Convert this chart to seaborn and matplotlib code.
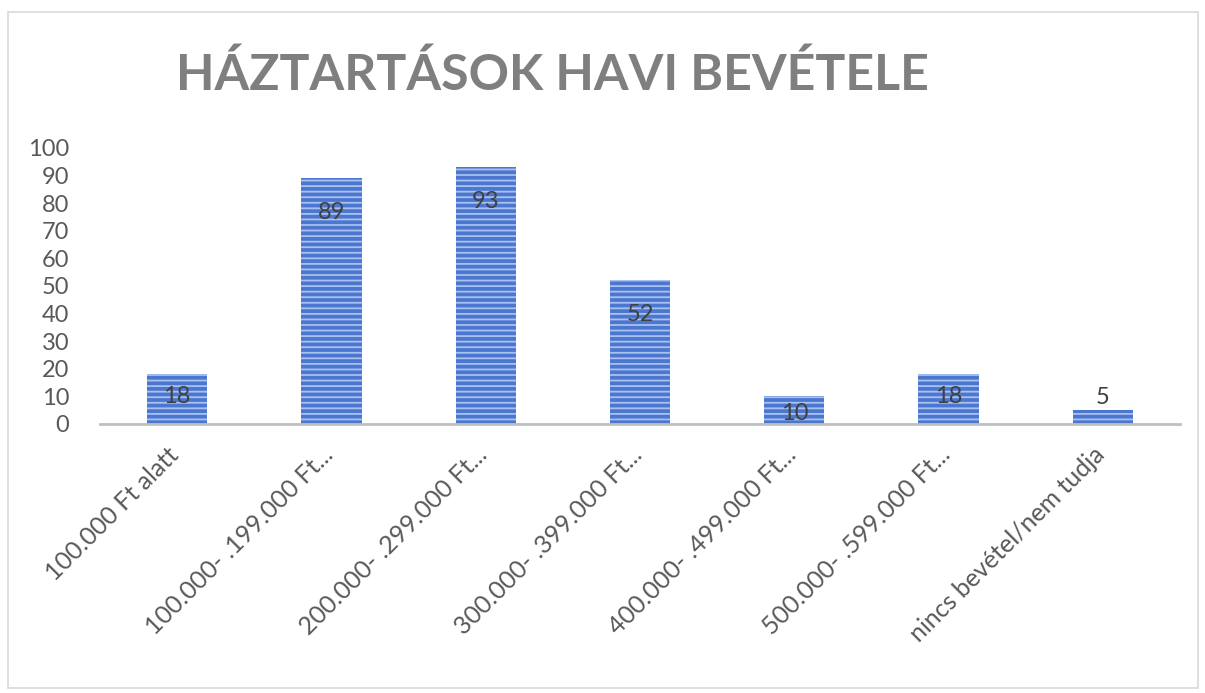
import matplotlib
matplotlib.use("Agg")
import matplotlib.pyplot as plt
import matplotlib.transforms as mtransforms
import seaborn as sns
import pandas as pd
from matplotlib.patches import Rectangle

categories = ["100.000 Ft alatt", "100.000- .199.000 Ft...", "200.000- .299.000 Ft...",
              "300.000- .399.000 Ft...", "400.000- .499.000 Ft...", "500.000- .599.000 Ft...",
              "nincs bevétel/nem tudja"]
values = [18, 89, 93, 52, 10, 18, 5]
y_ticks = [0, 10, 20, 30, 40, 50, 60, 70, 80, 90, 100]
title = "HÁZTARTÁSOK HAVI BEVÉTELE"

sns.set_theme(style="white")
plt.rcParams["font.family"] = ["Lato", "DejaVu Sans"]
plt.rcParams["hatch.color"] = "#A9C1EE"
plt.rcParams["hatch.linewidth"] = 1.3

W, H = 1205, 693
fig = plt.figure(figsize=(W / 100, H / 100), dpi=100)
ax = fig.add_axes([100 / W, 1 - 424 / H, 1080 / W, 276 / H])

df = pd.DataFrame({"cat": categories, "val": values})
sns.barplot(data=df, x="cat", y="val", color="#4C77D0", width=0.39, ax=ax, saturation=1)
for p in ax.patches:
    p.set_hatch("---")
    p.set_edgecolor("#A9C1EE")
    p.set_linewidth(0)

ax.set_ylim(0, 100)
ax.set_xlim(-0.5, len(categories) - 0.5)
ax.set_yticks(y_ticks)
ax.set_yticklabels([str(t) for t in y_ticks], fontsize=17, color="#595959")
ax.set_xlabel("")
ax.set_ylabel("")
for s in ["top", "right", "left"]:
    ax.spines[s].set_visible(False)
ax.spines["bottom"].set_color("#BFBFBF")
ax.spines["bottom"].set_linewidth(2)
ax.tick_params(axis="y", length=0, pad=22)
ax.tick_params(axis="x", length=0, pad=10)
ax.set_xticks(range(len(categories)))
ax.set_xticklabels(categories, rotation=45, ha="right", rotation_mode="anchor",
                   fontsize=18, color="#595959")
shift = mtransforms.ScaledTranslation(-10 / 100, -5 / 100, fig.dpi_scale_trans)
for lbl in ax.get_xticklabels():
    lbl.set_transform(lbl.get_transform() + shift)

px_per_unit = 276 / 100
for i, v in enumerate(values):
    h = v * px_per_unit
    if h < 20:
        ax.annotate(str(v), (i, v), xytext=(0, 2), textcoords="offset pixels",
                    ha="center", va="bottom", fontsize=17, color="#404040")
    else:
        off = min(24, 0.22 * h + 1)
        ax.annotate(str(v), (i, v), xytext=(0, -off), textcoords="offset pixels",
                    ha="center", va="top", fontsize=17, color="#404040")

fig.text(552 / W, 1 - 75 / H, title, ha="center", va="center", fontsize=36,
         fontweight="bold", color="#7F7F7F")

fig.patches.append(Rectangle((8 / W, 1 - 688 / H), 1190 / W, 676 / H,
                             transform=fig.transFigure, fill=False,
                             edgecolor="#D9D9D9", linewidth=1.2))

fig.savefig("out.png", dpi=100)
